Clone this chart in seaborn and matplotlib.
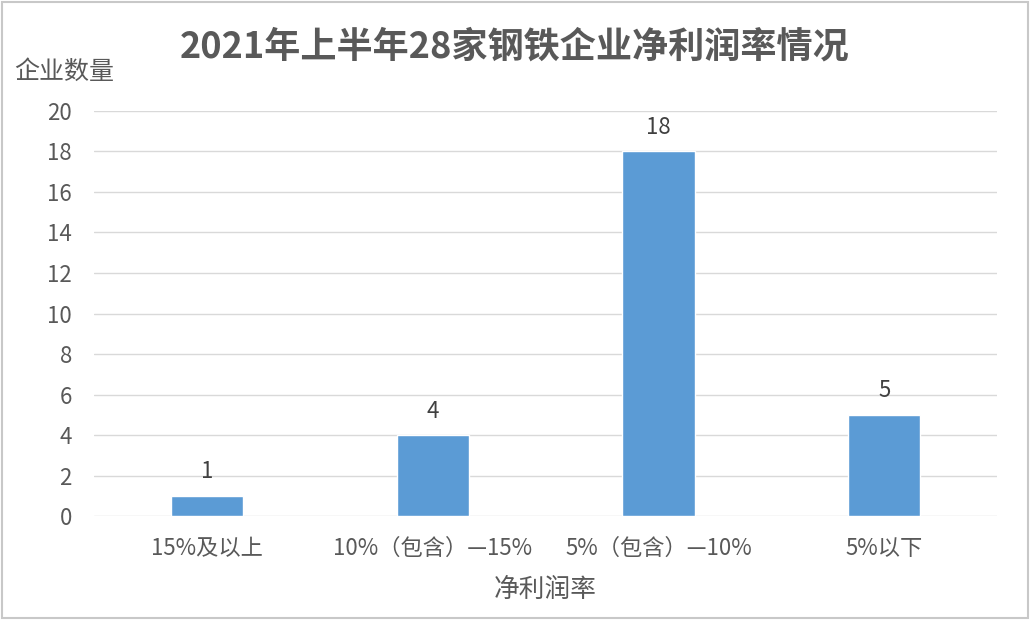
import matplotlib
matplotlib.use("Agg")
import matplotlib.pyplot as plt
import seaborn as sns
import pandas as pd

# 数据
categories = ["15%及以上", "10%（包含）—15%", "5%（包含）—10%", "5%以下"]
counts = [1, 4, 18, 5]
y_ticks = list(range(0, 21, 2))

df = pd.DataFrame({"净利润率": categories, "企业数量": counts})

sns.set_theme(style="white")
plt.rcParams["font.family"] = ["Noto Sans CJK SC", "DejaVu Sans"]

fig = plt.figure(figsize=(10.3, 6.2), dpi=100)
ax = fig.add_axes([0.0913, 0.1677, 0.8767, 0.6533])

sns.barplot(data=df, x="净利润率", y="企业数量", color="#5B9BD5",
            saturation=1, width=0.32, ax=ax)

ax.set_ylim(0, 20)
ax.set_xlim(-0.5, 3.5)
ax.set_yticks(y_ticks)
ax.yaxis.grid(True, color="#D9D9D9", linewidth=1)
ax.set_axisbelow(True)
for s in ax.spines.values():
    s.set_visible(False)
ax.tick_params(axis="both", length=0, colors="#595959", labelsize=16)
ax.tick_params(axis="y", pad=16)
ax.tick_params(axis="x", pad=15)

ax.bar_label(ax.containers[0], fontsize=16, color="#404040", padding=9)

ax.set_ylabel("")
ax.set_xlabel("净利润率", fontsize=18.5, color="#595959", labelpad=12)
fig.text(0.014, 0.884, "企业数量", fontsize=18, color="#595959", ha="left", va="center")
fig.text(0.5, 0.924, "2021年上半年28家钢铁企业净利润率情况", fontsize=26,
         fontweight="bold", color="#595959", ha="center", va="center")

# 外边框
fig.patches.append(plt.Rectangle((0.002, 0.003), 0.996, 0.994, transform=fig.transFigure,
                                 fill=False, edgecolor="#C8C8C8", linewidth=1.5))

fig.savefig("out.png", dpi=100, facecolor="white")
